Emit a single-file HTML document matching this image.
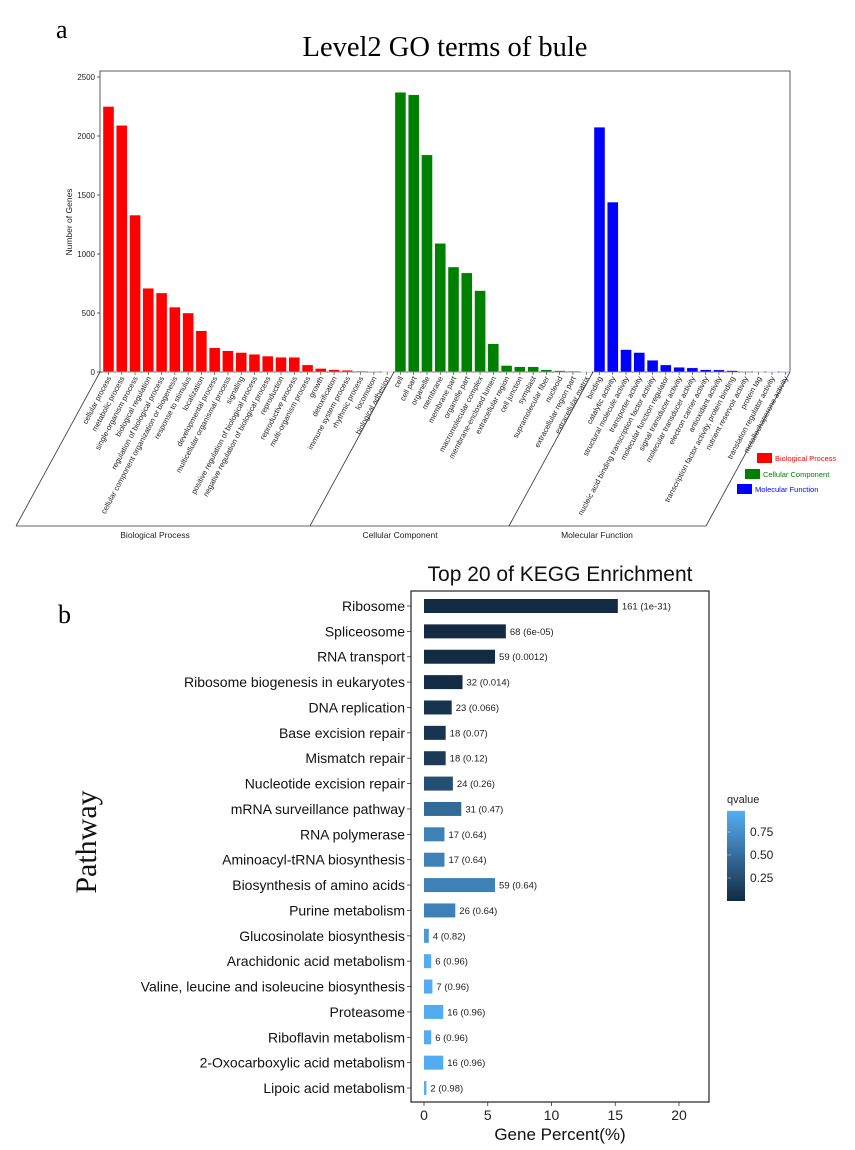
<!DOCTYPE html>
<html><head><meta charset="utf-8"><style>
html,body{margin:0;padding:0;background:#fff;}
svg{display:block;font-family:"Liberation Sans",sans-serif;}
</style></head><body>
<svg id="fig" width="855" height="1150" viewBox="0 0 855 1150" xmlns="http://www.w3.org/2000/svg">
<text x="56" y="38" font-family="Liberation Serif,serif" font-size="26">a</text>
<text x="445" y="56" text-anchor="middle" font-family="Liberation Serif,serif" font-size="28.5">Level2 GO terms of bule</text>
<text x="58" y="623" font-family="Liberation Serif,serif" font-size="26">b</text>
<g id="go"></g>
<g id="kegg"></g>
</svg>
<script>
const goTerms = ["cellular process","metabolic process","single-organism process","biological regulation","regulation of biological process","cellular component organization or biogenesis","response to stimulus","localization","developmental process","multicellular organismal process","signaling","positive regulation of biological process","negative regulation of biological process","reproduction","reproductive process","multi-organism process","growth","detoxification","immune system process","rhythmic process","locomotion","biological adhesion",
"cell","cell part","organelle","membrane","membrane part","organelle part","macromolecular complex","membrane-enclosed lumen","extracellular region","cell junction","symplast","supramolecular fiber","nucleoid","extracellular region part","extracellular matrix",
"binding","catalytic activity","structural molecule activity","transporter activity","nucleic acid binding transcription factor activity","molecular function regulator","signal transducer activity","molecular transducer activity","electron carrier activity","antioxidant activity","transcription factor activity, protein binding","nutrient reservoir activity","protein tag","translation regulator activity","metallochaperone activity"];
const goValues = [2250,2090,1330,710,670,550,500,350,205,180,165,150,135,125,125,60,30,20,15,8,5,3,
2370,2350,1840,1090,890,840,690,240,55,45,45,20,12,8,2,
2075,1440,190,165,100,60,40,35,20,18,12,5,3,2,1];
const goGroups = [22,15,15];
const goGroupNames = ["Biological Process","Cellular Component","Molecular Function"];
const goColors = ["#ff0000","#008000","#0000ff"];
const goTicks = [0,500,1000,1500,2000,2500];

const keggNames = ["Ribosome","Spliceosome","RNA transport","Ribosome biogenesis in eukaryotes","DNA replication","Base excision repair","Mismatch repair","Nucleotide excision repair","mRNA surveillance pathway","RNA polymerase","Aminoacyl-tRNA biosynthesis","Biosynthesis of amino acids","Purine metabolism","Glucosinolate biosynthesis","Arachidonic acid metabolism","Valine, leucine and isoleucine biosynthesis","Proteasome","Riboflavin metabolism","2-Oxocarboxylic acid metabolism","Lipoic acid metabolism"];
const keggCounts = [161,68,59,32,23,18,18,24,31,17,17,59,26,4,6,7,16,6,16,2];
const keggQ = [1e-31,6e-05,0.0012,0.014,0.066,0.07,0.12,0.26,0.47,0.64,0.64,0.64,0.64,0.82,0.96,0.96,0.96,0.96,0.96,0.98];
const keggQLabels = ["1e-31","6e-05","0.0012","0.014","0.066","0.07","0.12","0.26","0.47","0.64","0.64","0.64","0.64","0.82","0.96","0.96","0.96","0.96","0.96","0.98"];
const keggTotal = 1059;
const keggXTicks = [0,5,10,15,20];
const qTicks = [0.25,0.5,0.75];

const NS="http://www.w3.org/2000/svg";
function mk(parent,tag,attrs,text){const e=document.createElementNS(NS,tag);for(const k in attrs)e.setAttribute(k,attrs[k]);if(text!==undefined)e.textContent=text;parent.appendChild(e);return e;}

// GO chart
const go=document.getElementById('go');
const gL=100,gR=790,gT=71,gB=372;
const gy=v=>372-v*295/2500;
const pitch=13.27, gx0=103;
const gx=i=>gx0+i*pitch;
let f=mk(go,'rect',{x:gL,y:gT,width:gR-gL,height:gB-gT,fill:'none',stroke:'#333','stroke-width':0.8});


goTicks.forEach(t=>{
  let l=mk(go,'line',{x1:gL-3,x2:gL,y1:gy(t),y2:gy(t),stroke:'#333','stroke-width':0.8});
  
  
  let tx=mk(go,'text',{x:gL-5,y:gy(t)+3,'text-anchor':'end','font-size':8,fill:'#222'},String(t));
  
  
});
let yt=mk(go,'text',{x:0,y:0,transform:'translate(72,222) rotate(-90)','text-anchor':'middle','font-size':8.5,fill:'#222'},'Number of Genes');


let gi=0;
goGroups.forEach((n,g)=>{
  for(let k=0;k<n;k++,gi++){
    const v=goValues[gi];
    let b=mk(go,'rect',{x:gx(gi),y:gy(v),width:11,height:Math.max(0.6,gB-gy(v)),fill:goColors[g],stroke:'#fff','stroke-width':0.4});
    
    
    const cx=gx(gi)+5.5;
    let tk=mk(go,'line',{x1:cx,x2:cx,y1:gB,y2:gB+3,stroke:'#333','stroke-width':0.6});
    
    
    let lb=mk(go,'text',{x:0,y:0,transform:`translate(${cx+3},${gB+6}) rotate(-62)`,'text-anchor':'end','font-size':7.6,fill:'#222'},goTerms[gi]);
    
    
  }
});
// slanted frame
const dxs=-84, bY=526;
const divX=[gL,gx(22)-1,gx(37)-1,gR];
divX.forEach(x=>{
  let l=mk(go,'line',{x1:x,y1:gB,x2:x+dxs,y2:bY,stroke:'#333','stroke-width':0.8});
  
  
});
let bl=mk(go,'line',{x1:gL+dxs,y1:bY,x2:gR+dxs,y2:bY,stroke:'#333','stroke-width':0.8});


[155,400,597].forEach((x,i)=>{
  let t=mk(go,'text',{x:x,y:538,'text-anchor':'middle','font-size':8.5,fill:'#222'},goGroupNames[i]);
  
  
});
[[757,453],[745,469],[737,484]].forEach((p,i)=>{
  let r=mk(go,'rect',{x:p[0],y:p[1],width:15,height:10,fill:goColors[i]});
  
  
  let t=mk(go,'text',{x:p[0]+18,y:p[1]+8,'font-size':7.5,fill:goColors[i]},goGroupNames[i]);
  
  
});

// KEGG chart
const kg=document.getElementById('kegg');
const kL=411,kR=709,kT=591,kB=1102;
const kx=p=>424+p*(679-424)/20;
const ky=i=>606+i*25.37;
function qcol(q){const a=[19,43,67],b=[86,177,247];return `rgb(${a.map((c,i)=>Math.round(c+(b[i]-c)*q)).join(',')})`;}
let kt=mk(kg,'text',{x:560,y:581,'text-anchor':'middle','font-size':21,fill:'#111'},'Top 20 of KEGG Enrichment');


let kf=mk(kg,'rect',{x:kL,y:kT,width:kR-kL,height:kB-kT,fill:'none',stroke:'#222','stroke-width':1.2});


keggNames.forEach((n,i)=>{
  const y=ky(i), p=keggCounts[i]/keggTotal*100;
  let tk=mk(kg,'line',{x1:kL-4,x2:kL,y1:y,y2:y,stroke:'#333','stroke-width':0.8});
  
  
  let lb=mk(kg,'text',{x:kL-6,y:y+5,'text-anchor':'end','font-size':14,fill:'#111'},n);
  
  
  let b=mk(kg,'rect',{x:kx(0),y:y-7,width:kx(p)-kx(0),height:14,fill:qcol(keggQ[i])});
  
  
  let v=mk(kg,'text',{x:kx(p)+4,y:y+3.5,'font-size':9.5,fill:'#222'},`${keggCounts[i]} (${keggQLabels[i]})`);
  
  
});
keggXTicks.forEach(t=>{
  let l=mk(kg,'line',{x1:kx(t),x2:kx(t),y1:kB,y2:kB+4,stroke:'#333','stroke-width':0.8});
  
  
  let tx=mk(kg,'text',{x:kx(t),y:kB+18,'text-anchor':'middle','font-size':14,fill:'#222'},String(t));
  
  
});
let xt=mk(kg,'text',{x:560,y:1140,'text-anchor':'middle','font-size':17,fill:'#111'},'Gene Percent(%)');


let pt=mk(kg,'text',{x:0,y:0,transform:'translate(96,842) rotate(-90)','text-anchor':'middle','font-family':'Liberation Serif,serif','font-size':30,fill:'#111'},'Pathway');


// colorbar
const defs=mk(kg,'defs',{});
const lg=mk(defs,'linearGradient',{id:'qg',x1:0,y1:1,x2:0,y2:0});
mk(lg,'stop',{offset:'0','stop-color':qcol(0)});
mk(lg,'stop',{offset:'1','stop-color':qcol(0.98)});
const qy=q=>901-q*92;
let lt=mk(kg,'text',{x:727,y:803,'font-size':11,fill:'#222'},'qvalue');


let cb=mk(kg,'rect',{x:727,y:qy(0.98),width:18,height:qy(0)-qy(0.98),fill:'url(#qg)'});


qTicks.forEach(q=>{
  let l=mk(kg,'line',{x1:727,x2:731,y1:qy(q),y2:qy(q),stroke:'#fff','stroke-width':0.6,opacity:0.6});
  
  
  let tx=mk(kg,'text',{x:750,y:qy(q)+4,'font-size':12,fill:'#222'},q.toFixed(2));
  
  
});
</script>
</body></html>
